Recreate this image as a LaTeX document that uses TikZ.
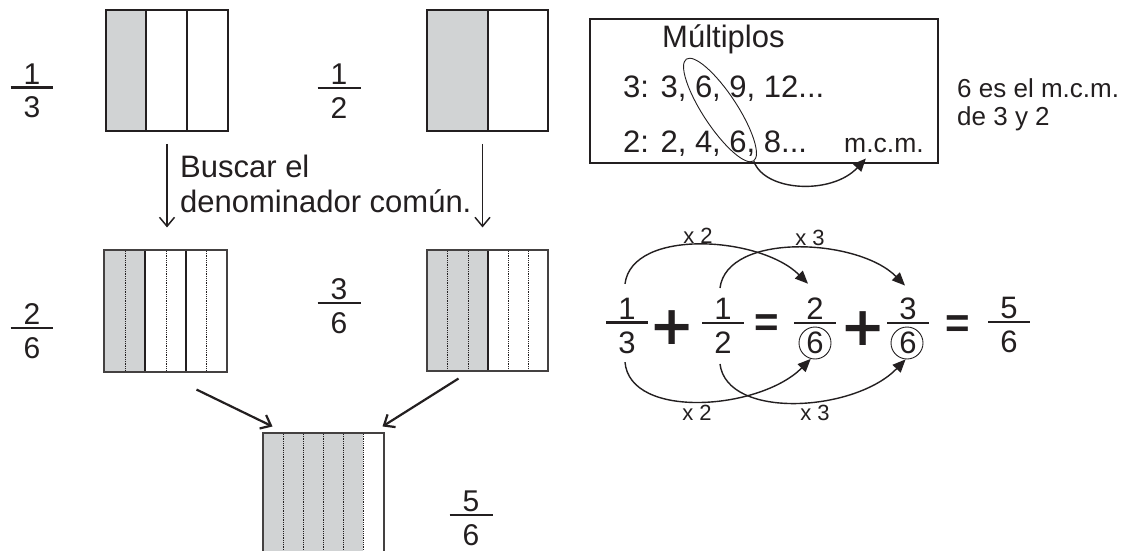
\documentclass[tikz,border=0pt]{standalone}
\usepackage{fontspec}
\setmainfont{Liberation Sans}
\newfontfamily\plusfont{DejaVu Sans}
\usetikzlibrary{arrows.meta,shapes.geometric}
\definecolor{shadegray}{HTML}{D1D3D4}
\definecolor{ink}{HTML}{231F20}
\newcommand\fr[3][43pt]{\vbox{\kern6pt\hbox to #1{\hfil #2\hfil}\kern2pt\hrule height 2.6pt\kern8pt\hbox to #1{\hfil #3\hfil}}}
\tikzset{
  frac/.style={inner sep=0pt, text=ink, font=\fontsize{30}{30}\selectfont},
  eqfrac/.style={inner sep=0pt, text=ink, font=\fontsize{31}{31}\selectfont},
  barbox/.style={draw=ink, line width=1.5pt, inner sep=0pt},
  thinbox/.style={draw=ink!85, line width=1.1pt, inner sep=0pt},
  divider/.style={draw=ink, line width=1.5pt},
  dotdiv/.style={draw=ink, densely dotted, line width=0.8pt},
  barb/.style={draw=ink, -{Straight Barb[length=9pt,width=15pt]}},
  tri/.style={draw=ink, line width=1.4pt, -{Triangle[length=13pt,width=11pt]}},
  txt/.style={inner sep=0pt, text=ink, anchor=base west},
  small/.style={inner sep=0pt, text=ink, font=\fontsize{22}{22}\selectfont},
  opsym/.style={inner sep=0pt, text=ink},
  ring/.style={circle, draw=ink, line width=0.9pt, minimum size=32pt, inner sep=0pt}
}
\begin{document}
\begin{tikzpicture}[x=1pt,y=-1pt]
\useasboundingbox (0,0) rectangle (1127,551);
\fill[white] (0,0) rectangle (1127,551);

% ---------- top bars ----------
\fill[shadegray] (106,10) rectangle (146,131);
\draw[divider] (146,10) -- (146,131) (187,10) -- (187,131);
\node[barbox, minimum width=122pt, minimum height=121pt] (b13) at (167,70.5) {};

\fill[shadegray] (427,10) rectangle (488,131);
\draw[divider] (488,10) -- (488,131);
\node[barbox, minimum width=121pt, minimum height=121pt] (b12) at (487.5,70.5) {};

% ---------- middle bars ----------
\fill[shadegray] (104,250) rectangle (145,372);
\draw[divider] (145,250) -- (145,372) (186,250) -- (186,372);
\foreach \x in {125,166,206} \draw[dotdiv] (\x,251) -- (\x,371);
\node[thinbox, minimum width=123pt, minimum height=122pt] (b26) at (165.5,311) {};

\fill[shadegray] (427,250) rectangle (488,371);
\draw[divider] (488,250) -- (488,371);
\foreach \x in {447,468,508,528} \draw[dotdiv] (\x,251) -- (\x,370);
\node[thinbox, minimum width=121pt, minimum height=121pt] (b36) at (487.5,310.5) {};

% ---------- bottom bar ----------
\fill[shadegray] (263,433) rectangle (363,560);
\foreach \x in {283,303,323,343,363} \draw[dotdiv] (\x,434) -- (\x,560);
\node[thinbox, minimum width=121pt, minimum height=127pt] (b56) at (323.5,496.5) {};

% ---------- fractions left ----------
\node[frac] (f13) at (32,88) {\fr{1}{3}};
\node[frac] (f12) at (339,88) {\fr{1}{2}};
\node[frac] (f26) at (32,328) {\fr{2}{6}};
\node[frac] (f36) at (339,303) {\fr{3}{6}};
\node[frac] (f56) at (471,515) {\fr{5}{6}};

% ---------- arrows left ----------
\node[txt, align=left, font=\fontsize{31}{35}\selectfont] (busca) at (180,212) {Buscar el\\denominador común.};
\draw[barb, line width=1.5pt] ([yshift=-12pt]b13.south) -- ([yshift=22pt]b13.south |- b26.north);
\draw[barb, line width=1.5pt] ([xshift=-5pt,yshift=-12pt]b12.south) -- ([xshift=-5pt,yshift=22pt]b12.south |- b36.north);
\draw[barb, line width=2.2pt] ([xshift=31pt,yshift=-17pt]b26.south) -- ([xshift=-51pt,yshift=6pt]b56.north);
\draw[barb, line width=2.2pt] ([xshift=-29pt,yshift=-7pt]b36.south) -- ([xshift=59pt,yshift=6pt]b56.north);

% ---------- multiples box ----------
\node[draw=ink, line width=2pt, minimum width=348pt, minimum height=144pt, inner sep=0pt] (mbox) at (764,91) {};
\node[txt, font=\fontsize{31}{31}\selectfont] (mult) at (662,48) {Múltiplos};
\node[txt, font=\fontsize{31}{31}\selectfont] (m3) at (623,97) {3: 3, 6, 9, 12...};
\node[txt, font=\fontsize{31}{31}\selectfont] (m2) at (623,152) {2: 2, 4, 6, 8...};
\node[txt, font=\fontsize{26.5}{26.5}\selectfont] (mcm) at (844,152) {m.c.m.};
\node[ellipse, draw=ink, line width=0.9pt, minimum width=122pt, minimum height=34pt, rotate=-56.6] (ell) at (720,110) {};
\draw[tri] (ell.east) .. controls (765,192) and (832,195) .. ([xshift=-18pt,yshift=-6pt]mcm.south);
\node[txt, font=\fontsize{26}{28}\selectfont, align=left] (note) at (957,125) {6 es el m.c.m.\\de 3 y 2};

% ---------- equation ----------
\node[eqfrac] (e13) at (627,323) {\fr[42pt]{1}{3}};
\node[opsym, font=\plusfont\bfseries\fontsize{54}{54}\selectfont] (p1) at (672,328) {+};
\node[eqfrac] (e12) at (723,323) {\fr[42pt]{1}{2}};
\node[opsym, font=\bfseries\fontsize{42}{42}\selectfont] (q1) at (767,326) {=};
\node[eqfrac] (e26) at (815,323) {\fr[42pt]{2}{6}};
\node[opsym, font=\plusfont\bfseries\fontsize{54}{54}\selectfont] (p2) at (863,329) {+};
\node[eqfrac] (e36) at (908,323) {\fr[42pt]{3}{6}};
\node[opsym, font=\bfseries\fontsize{42}{42}\selectfont] (q2) at (958,327) {=};
\node[eqfrac] (e56) at (1009,322) {\fr[42pt]{5}{6}};
\node[ring] (c1) at (815,343) {};
\node[ring] (c2) at (907,343) {};

\draw[tri] ([xshift=-2pt,yshift=8pt]e13.north) .. controls (632,228) and (760,236) .. ([xshift=-7pt,yshift=8pt]e26.north);
\draw[tri] ([xshift=-3pt,yshift=4pt]e12.north) .. controls (727,232) and (858,238) .. ([xshift=-3pt,yshift=6pt]e36.north);
\draw[tri] ([xshift=-2pt,yshift=-8pt]e13.south) .. controls (630,420) and (760,410) .. (c1.-105);
\draw[tri] ([xshift=-3pt,yshift=-10pt]e12.south) .. controls (727,420) and (855,412) .. (c2.-95);

\node[small] (l1) at (698,236) {x 2};
\node[small] (l2) at (810,238) {x 3};
\node[small] (l3) at (697,413) {x 2};
\node[small] (l4) at (815,413) {x 3};
\end{tikzpicture}
\end{document}
